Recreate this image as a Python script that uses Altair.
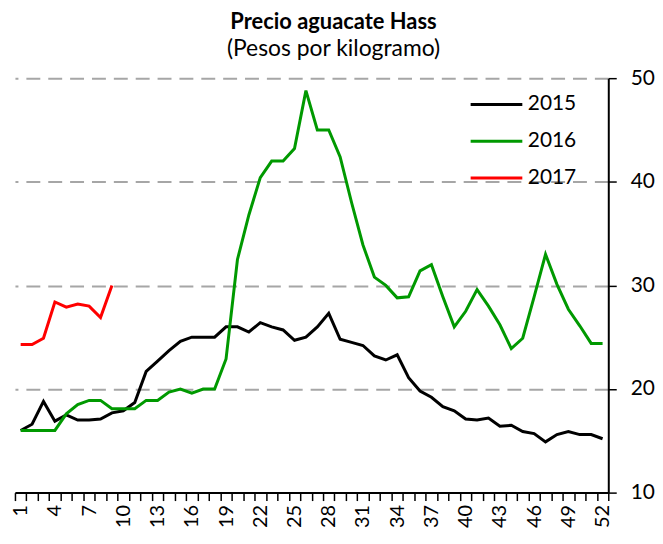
import altair as alt
import pandas as pd

weeks = list(range(1, 53))

y2015 = [16.0, 16.6, 18.8, 16.9, 17.5, 17.0, 17.0, 17.1, 17.7, 17.9,
         18.7, 21.7, 22.7, 23.7, 24.6, 25.0, 25.0, 25.0, 26.0, 26.0,
         25.5, 26.4, 26.0, 25.7, 24.7, 25.0, 26.0, 27.3, 24.8, 24.5,
         24.2, 23.2, 22.8, 23.3, 21.1, 19.8, 19.2, 18.3, 17.9, 17.1,
         17.0, 17.2, 16.4, 16.5, 15.9, 15.7, 14.9, 15.6, 15.9, 15.6,
         15.6, 15.2]

y2016 = [16.0, 16.0, 16.0, 16.0, 17.6, 18.5, 18.9, 18.9, 18.1, 18.1,
         18.1, 18.9, 18.9, 19.7, 20.0, 19.6, 20.0, 20.0, 22.9, 32.5,
         36.8, 40.4, 42.0, 42.0, 43.2, 48.8, 45.0, 45.0, 42.4, 38.0,
         33.9, 30.8, 30.0, 28.8, 28.9, 31.4, 32.0, 28.9, 26.0, 27.5,
         29.6, 28.0, 26.2, 23.9, 24.9, 28.9, 33.0, 30.1, 27.7, 26.1,
         24.4, 24.4]

y2017 = [24.3, 24.3, 24.9, 28.4, 27.9, 28.2, 28.0, 26.9, 30.0]

years = ["2015", "2016", "2017"]
colors = ["#000000", "#009900", "#ff0000"]
y_ticks = [10, 20, 30, 40, 50]

rows = []
for yr, vals in zip(years, [y2015, y2016, y2017]):
    for w, v in zip(weeks, vals):
        rows.append({"semana": w, "precio": v, "anio": yr})
df = pd.DataFrame(rows)

FONT = "Lato"

chart = alt.Chart(df).mark_line(strokeWidth=3).encode(
    x=alt.X(
        "semana:O",
        sort=weeks,
        bandPosition=0.5,
        scale=alt.Scale(type="band", paddingInner=0, paddingOuter=0),
        axis=alt.Axis(
            title=None,
            tickBand="extent",
            labelAngle=270,
            labelExpr="(datum.value - 1) % 3 == 0 ? datum.label : ''",
            labelOverlap=False,
            labelFont=FONT,
            labelFontSize=20,
            labelColor="#000000",
            labelPadding=4,
            domainColor="#000000",
            domainWidth=2,
            tickColor="#000000",
            tickWidth=1.5,
            tickSize=8,
            grid=False,
            zindex=1,
        ),
    ),
    y=alt.Y(
        "precio:Q",
        scale=alt.Scale(domain=[10, 50], nice=False, zero=False),
        axis=alt.Axis(
            title=None,
            orient="right",
            values=y_ticks,
            labelFont=FONT,
            labelFontSize=21,
            labelColor="#000000",
            labelPadding=14,
            domainColor="#000000",
            domainWidth=2,
            tickColor="#000000",
            tickWidth=1.5,
            tickSize=8,
            grid=True,
            gridColor="#a6a6a6",
            gridWidth=2,
            gridDash=[14, 8],
        ),
    ),
    color=alt.Color(
        "anio:N",
        scale=alt.Scale(domain=years, range=colors),
        legend=alt.Legend(
            title=None,
            orient="none",
            legendX=457,
            legendY=8,
            symbolType="stroke",
            symbolSize=2704,
            symbolStrokeWidth=3,
            labelFont=FONT,
            labelFontSize=21,
            labelColor="#000000",
            labelOffset=4,
            clipHeight=37,
            rowPadding=0,
            padding=0,
        ),
    ),
).properties(
    width=597,
    height=417,
    autosize=alt.AutoSizeParams(type="none"),
    padding={"left": 7, "top": 69, "right": 47, "bottom": 35},
    title=alt.TitleParams(
        text="Precio aguacate Hass",
        subtitle="(Pesos por kilogramo)",
        font=FONT,
        fontSize=22,
        fontWeight="bold",
        color="#000000",
        subtitleFont=FONT,
        subtitleFontSize=23,
        subtitleColor="#000000",
        subtitlePadding=4,
        anchor="middle",
        dx=22,
        offset=5,
    ),
).configure_view(stroke=None)

chart.save("out.html", embed_options={"renderer": "svg", "actions": False})
